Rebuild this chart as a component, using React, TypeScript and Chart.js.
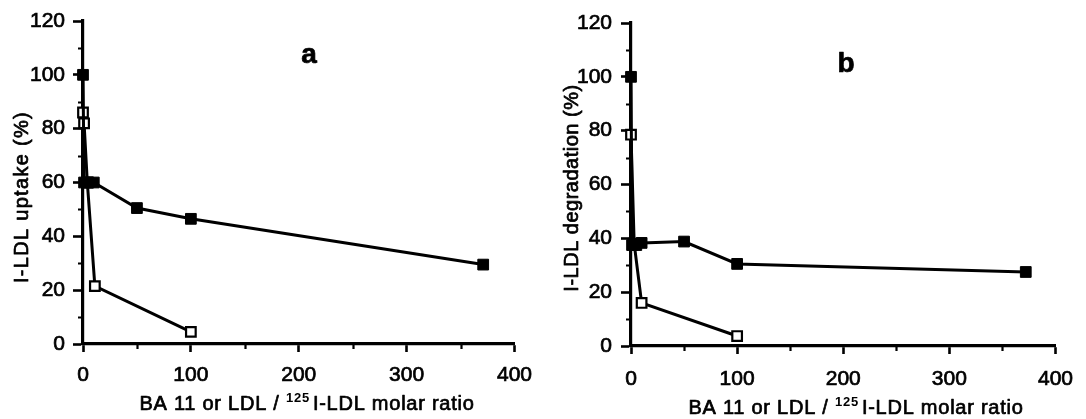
import React, { useEffect, useRef } from "react";
import { Chart, registerables } from "chart.js";

Chart.register(...registerables);

// ---- tick values ----
const xTicksMajor = [0, 100, 200, 300, 400];
const xTicksMinor = [50, 150, 250, 350];
const yTicksMajor = [0, 20, 40, 60, 80, 100, 120];
const yTicksMinor = [10, 30, 50, 70, 90, 110];

// ---- panel a: I-LDL uptake ----
const aFilledX = [0, 1, 5, 10, 50, 100, 371];
const aFilledY = [100, 60, 60, 60, 50.5, 46.5, 29.5];
const aOpenX = [0, 1, 4, 11, 100];
const aOpenY = [86, 82, 60, 21.5, 4.5];

// ---- panel b: I-LDL degradation ----
const bFilledX = [0, 1, 5, 10, 50, 100, 372];
const bFilledY = [100, 37.5, 37.5, 38.3, 38.8, 30.5, 27.5];
const bOpenX = [0, 3, 10, 100];
const bOpenY = [78.5, 38, 16, 3.7];

// ---- texts ----
const xTitleMain = "BA 11 or LDL / ";
const xTitleSup = "125";
const xTitleRest = "I-LDL molar ratio";
const aYTitle = "I-LDL uptake (%)";
const bYTitle = "I-LDL degradation (%)";
const aLetter = "a";
const bLetter = "b";

const FONT = "'Liberation Sans', Arial, Helvetica, sans-serif";
const W = 543;
const H = 419;
const STROKE = 0.7;

type PanelCfg = {
  filledX: number[];
  filledY: number[];
  openX: number[];
  openY: number[];
  yTitle: string;
  letter: string;
  padTop: number;
  padRight: number;
  yWidth: number;
  xHeight: number;
  yLabelPad: number;
  xLabelPad: number;
  yTitleDX: number;
  yTitleCY: number;
  yTitleSpacing: number;
  xTitleCX: number;
  xTitleBase: number;
  letterX: number;
  letterY: number;
};

const panelA: PanelCfg = {
  filledX: aFilledX,
  filledY: aFilledY,
  openX: aOpenX,
  openY: aOpenY,
  yTitle: aYTitle,
  letter: aLetter,
  padTop: 21,
  padRight: W - 515,
  yWidth: 83,
  xHeight: H - 344,
  yLabelPad: 8,
  xLabelPad: 11,
  yTitleDX: -61,
  yTitleCY: 197,
  yTitleSpacing: 1.3,
  xTitleCX: 307,
  xTitleBase: 410,
  letterX: 309,
  letterY: 63,
};

const panelB: PanelCfg = {
  filledX: bFilledX,
  filledY: bFilledY,
  openX: bOpenX,
  openY: bOpenY,
  yTitle: bYTitle,
  letter: bLetter,
  padTop: 23,
  padRight: W - 520,
  yWidth: 88,
  xHeight: H - 346,
  yLabelPad: 9,
  xLabelPad: 13,
  yTitleDX: -59,
  yTitleCY: 188,
  yTitleSpacing: 0.5,
  xTitleCX: 313,
  xTitleBase: 414,
  letterX: 303,
  letterY: 72,
};

function zip(xs: number[], ys: number[]) {
  return xs.map((x, i) => ({ x, y: ys[i] }));
}

function heavyText(ctx: CanvasRenderingContext2D, s: string, x: number, y: number) {
  ctx.strokeText(s, x, y);
  ctx.fillText(s, x, y);
}

function makeDecor(cfg: PanelCfg) {
  return {
    id: "decor",
    afterDraw(chart: any) {
      const { ctx, chartArea } = chart;
      const xs = chart.scales.x;
      const ys = chart.scales.y;
      ctx.save();
      ctx.strokeStyle = "#000";
      ctx.fillStyle = "#000";
      ctx.lineWidth = 2.2;
      ctx.beginPath();
      for (const v of yTicksMinor) {
        const py = Math.round(ys.getPixelForValue(v)) + 0.5;
        ctx.moveTo(chartArea.left - 5, py);
        ctx.lineTo(chartArea.left, py);
      }
      for (const v of xTicksMinor) {
        const px = Math.round(xs.getPixelForValue(v)) + 0.5;
        ctx.moveTo(px, chartArea.bottom);
        ctx.lineTo(px, chartArea.bottom + 5);
      }
      ctx.stroke();

      ctx.lineWidth = STROKE;
      ctx.lineJoin = "round";

      // y title
      ctx.save();
      ctx.translate(chartArea.left + cfg.yTitleDX, cfg.yTitleCY);
      ctx.rotate(-Math.PI / 2);
      ctx.font = `20px ${FONT}`;
      (ctx as any).letterSpacing = `${cfg.yTitleSpacing}px`;
      ctx.textAlign = "center";
      ctx.textBaseline = "middle";
      heavyText(ctx, cfg.yTitle, 0, 0);
      ctx.restore();

      // x title with superscript
      ctx.save();
      (ctx as any).letterSpacing = "0.75px";
      ctx.textAlign = "left";
      ctx.textBaseline = "alphabetic";
      ctx.font = `20px ${FONT}`;
      const w1 = ctx.measureText(xTitleMain).width;
      const w3 = ctx.measureText(xTitleRest).width;
      ctx.font = `13px ${FONT}`;
      const w2 = ctx.measureText(xTitleSup).width;
      const gap = 3;
      const total = w1 + w2 + gap + w3;
      const x0 = cfg.xTitleCX - total / 2;
      ctx.font = `20px ${FONT}`;
      heavyText(ctx, xTitleMain, x0, cfg.xTitleBase);
      heavyText(ctx, xTitleRest, x0 + w1 + w2 + gap, cfg.xTitleBase);
      ctx.font = `bold 13px ${FONT}`;
      ctx.fillText(xTitleSup, x0 + w1, cfg.xTitleBase - 8);
      ctx.restore();

      // panel letter
      ctx.font = `bold 28px ${FONT}`;
      ctx.textAlign = "center";
      ctx.textBaseline = "alphabetic";
      heavyText(ctx, cfg.letter, cfg.letterX, cfg.letterY);
      ctx.restore();
    },
  };
}

function Panel({ cfg, left }: { cfg: PanelCfg; left: number }) {
  const ref = useRef<HTMLCanvasElement>(null);
  useEffect(() => {
    const canvas = ref.current!;
    const tickFont = { family: FONT, size: 21 };
    const chart = new Chart(canvas, {
      type: "line",
      data: {
        datasets: [
          {
            data: zip(cfg.filledX, cfg.filledY),
            borderColor: "#000",
            backgroundColor: "#000",
            borderWidth: 3,
            pointStyle: "rect",
            pointRadius: 7.6,
            pointBorderWidth: 1,
            pointBackgroundColor: "#000",
            pointBorderColor: "#000",
            tension: 0,
            clip: false,
          } as any,
          {
            data: zip(cfg.openX, cfg.openY),
            borderColor: "#000",
            backgroundColor: "#fff",
            borderWidth: 3,
            pointStyle: "rect",
            pointRadius: 6.8,
            pointBorderWidth: 2.2,
            pointBackgroundColor: "#fff",
            pointBorderColor: "#000",
            tension: 0,
            clip: false,
          } as any,
        ],
      },
      options: {
        animation: false,
        responsive: false,
        devicePixelRatio: 1,
        layout: { padding: { left: 0, top: cfg.padTop, right: cfg.padRight, bottom: 0 } },
        plugins: { legend: { display: false }, tooltip: { enabled: false } },
        scales: {
          x: {
            type: "linear",
            min: 0,
            max: 400,
            afterBuildTicks: (s: any) => {
              s.ticks = xTicksMajor.map((v) => ({ value: v }));
            },
            afterFit: (s: any) => {
              s.height = cfg.xHeight;
            },
            grid: {
              display: true,
              drawOnChartArea: false,
              drawTicks: true,
              tickLength: 8,
              tickWidth: 2.6,
              tickColor: "#000",
            },
            border: { display: true, color: "#000", width: 3.2 },
            ticks: {
              color: "#000",
              font: tickFont,
              padding: cfg.xLabelPad,
              maxRotation: 0,
              autoSkip: false,
              textStrokeColor: "#000",
              textStrokeWidth: STROKE,
            },
          },
          y: {
            type: "linear",
            min: 0,
            max: 120,
            afterBuildTicks: (s: any) => {
              s.ticks = yTicksMajor.map((v) => ({ value: v }));
            },
            afterFit: (s: any) => {
              s.width = cfg.yWidth;
            },
            grid: {
              display: true,
              drawOnChartArea: false,
              drawTicks: true,
              tickLength: 10,
              tickWidth: 2.6,
              tickColor: "#000",
            },
            border: { display: true, color: "#000", width: 3.2 },
            ticks: {
              color: "#000",
              font: tickFont,
              padding: cfg.yLabelPad,
              autoSkip: false,
              textStrokeColor: "#000",
              textStrokeWidth: STROKE,
            },
          },
        },
      } as any,
      plugins: [makeDecor(cfg)],
    });
    return () => chart.destroy();
  }, [cfg]);
  return (
    <div style={{ position: "absolute", left, top: 0, width: W, height: H }}>
      <canvas ref={ref} width={W} height={H} style={{ width: W, height: H, display: "block" }} />
    </div>
  );
}

export default function App() {
  return (
    <div style={{ position: "absolute", left: 0, top: 0, width: 1086, height: 419, background: "#fff" }}>
      <Panel cfg={panelA} left={0} />
      <Panel cfg={panelB} left={W} />
    </div>
  );
}
